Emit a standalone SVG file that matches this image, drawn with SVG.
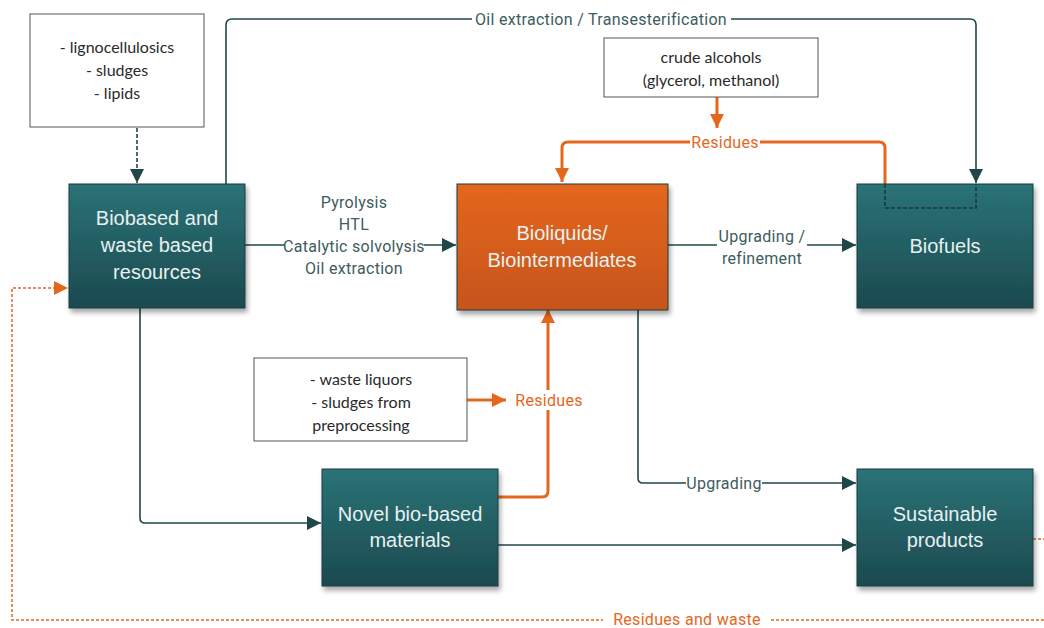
<svg xmlns="http://www.w3.org/2000/svg" width="1044" height="628" viewBox="0 0 1044 628">
<defs>
  <linearGradient id="teal" x1="0" y1="0" x2="0" y2="1">
    <stop offset="0" stop-color="#2a7377"/>
    <stop offset="1" stop-color="#1c4a4f"/>
  </linearGradient>
  <linearGradient id="orange" x1="0" y1="0" x2="0" y2="1">
    <stop offset="0" stop-color="#e4671c"/>
    <stop offset="1" stop-color="#c6541a"/>
  </linearGradient>
  <filter id="shadow" x="-10%" y="-10%" width="125%" height="130%">
    <feDropShadow dx="2" dy="4" stdDeviation="2.5" flood-color="#000" flood-opacity="0.35"/>
  </filter>
  <marker id="ad" viewBox="0 0 10 10" refX="10" refY="5" markerWidth="18" markerHeight="14" markerUnits="userSpaceOnUse" orient="auto">
    <path d="M0,0 L10,5 L0,10 z" fill="#1f4748"/>
  </marker>
  <marker id="ao" viewBox="0 0 10 10" refX="10" refY="5" markerWidth="16" markerHeight="14" markerUnits="userSpaceOnUse" orient="auto">
    <path d="M0,0 L10,5 L0,10 z" fill="#e4671c"/>
  </marker>
</defs>
<style>
  .node { stroke: #1a3d40; stroke-width: 1; filter: url(#shadow); }
  .ntext { font-family: "Liberation Sans", Arial, sans-serif; font-size: 20px; fill: #e8f0f0; text-anchor: middle; }
  .ibox { fill: #fff; stroke: #555; stroke-width: 1; }
  .itext { font-family: Lato, "Liberation Sans", sans-serif; font-size: 16px; fill: #2a2a2a; text-anchor: middle; }
  .dk { fill: none; stroke: #1f4748; stroke-width: 1.6; }
  .or { fill: none; stroke: #e4671c; stroke-width: 3; }
  .ltext { font-family: "Roboto", "Liberation Sans", sans-serif; font-size: 16px; letter-spacing: 0.3px; fill: #3d5c5e; text-anchor: middle; }
  .otext { font-family: "Roboto", "Liberation Sans", sans-serif; font-size: 16px; letter-spacing: 0.3px; fill: #e4671c; text-anchor: middle; }
  .bg { fill: #fff; }
</style>
<rect width="1044" height="628" fill="#fff"/>

<g id="connectors">
  <path class="dk" d="M137,128 V183" stroke-dasharray="4,2" marker-end="url(#ad)"/>
  <path class="dk" d="M226,184 V25 Q226,19 232,19 H970 Q976,19 976,25 V183" marker-end="url(#ad)"/>
  <rect class="bg" x="472" y="10" width="259" height="18"/>
  <text class="ltext" x="601" y="25">Oil extraction / Transesterification</text>
  <path class="dk" d="M245,245 H456" marker-end="url(#ad)"/>
  <rect class="bg" x="285" y="236" width="139" height="18"/>
  <text class="ltext" x="354" y="208">Pyrolysis</text>
  <text class="ltext" x="354" y="230">HTL</text>
  <text class="ltext" x="354" y="252">Catalytic solvolysis</text>
  <text class="ltext" x="354" y="274">Oil extraction</text>
  <path class="dk" d="M668,245 H856" marker-end="url(#ad)"/>
  <rect class="bg" x="717" y="226" width="90" height="40"/>
  <text class="ltext" x="762" y="242">Upgrading /</text>
  <text class="ltext" x="762" y="264">refinement</text>
  <path class="or" d="M885,184 V148 Q885,142 879,142 H568 Q562,142 562,148 V182" marker-end="url(#ao)"/>
  <path class="or" d="M717,97 V128" marker-end="url(#ao)"/>
  <rect class="bg" x="690" y="133" width="70" height="18"/>
  <text class="otext" x="725" y="148">Residues</text>
  <path class="or" d="M498,497 H542 Q548,497 548,491 V309" marker-end="url(#ao)"/>
  <path class="or" d="M467,400 H506" marker-end="url(#ao)"/>
  <rect class="bg" x="512" y="390" width="74" height="20"/>
  <text class="otext" x="549" y="406">Residues</text>
  <path class="dk" d="M638,310 V478 Q638,483 643,483 H856" marker-end="url(#ad)"/>
  <rect class="bg" x="686" y="474" width="76" height="18"/>
  <text class="ltext" x="724" y="489">Upgrading</text>
  <path class="dk" d="M140,308 V518 Q140,523 145,523 H321" marker-end="url(#ad)"/>
  <path class="dk" d="M498,545 H856" marker-end="url(#ad)"/>
  <path d="M1033,539 H1044" fill="none" stroke="#e4671c" stroke-width="1.5" stroke-dasharray="3,2"/>
  <path d="M1044,620 H12 V288 H68" fill="none" stroke="#e4671c" stroke-width="1.5" stroke-dasharray="3,2" marker-end="url(#ao)"/>
  <rect class="bg" x="603" y="610" width="168" height="18"/>
  <text class="otext" x="687" y="625">Residues and waste</text>
</g>

<g id="inputs-box">
  <rect class="ibox" x="30" y="14" width="174" height="113"/>
  <text class="itext" x="117" y="53">- lignocellulosics</text>
  <text class="itext" x="117" y="76">- sludges</text>
  <text class="itext" x="117" y="99">- lipids</text>
</g>

<g id="crude-alcohols">
  <rect class="ibox" x="604" y="38" width="214" height="59"/>
  <text class="itext" x="711" y="63">crude alcohols</text>
  <text class="itext" x="711" y="86">(glycerol, methanol)</text>
</g>

<g id="waste-liquors">
  <rect class="ibox" x="254" y="358" width="213" height="83"/>
  <text class="itext" x="361" y="385">- waste liquors</text>
  <text class="itext" x="361" y="408">- sludges from</text>
  <text class="itext" x="361" y="431">preprocessing</text>
</g>

<g id="biobased">
  <rect class="node" x="69" y="184" width="176" height="124" fill="url(#teal)"/>
  <text class="ntext" x="157" y="225">Biobased and</text>
  <text class="ntext" x="157" y="252">waste based</text>
  <text class="ntext" x="157" y="279">resources</text>
</g>

<g id="bioliquids">
  <rect class="node" x="457" y="184" width="211" height="126" fill="url(#orange)" stroke="#8a3a10"/>
  <text class="ntext" x="562" y="240">Bioliquids/</text>
  <text class="ntext" x="562" y="267">Biointermediates</text>
</g>

<g id="biofuels">
  <rect class="node" x="857" y="184" width="176" height="124" fill="url(#teal)"/>
  <path d="M885,184 V208 H976 V184" fill="none" stroke="#173a3c" stroke-width="1.6" stroke-dasharray="4,2"/>
  <text class="ntext" x="945" y="253">Biofuels</text>
</g>

<g id="novel">
  <rect class="node" x="322" y="469" width="176" height="117" fill="url(#teal)"/>
  <text class="ntext" x="410" y="521">Novel bio-based</text>
  <text class="ntext" x="410" y="547">materials</text>
</g>

<g id="sustainable">
  <rect class="node" x="857" y="469" width="176" height="117" fill="url(#teal)"/>
  <text class="ntext" x="945" y="521">Sustainable</text>
  <text class="ntext" x="945" y="547">products</text>
</g>
</svg>
